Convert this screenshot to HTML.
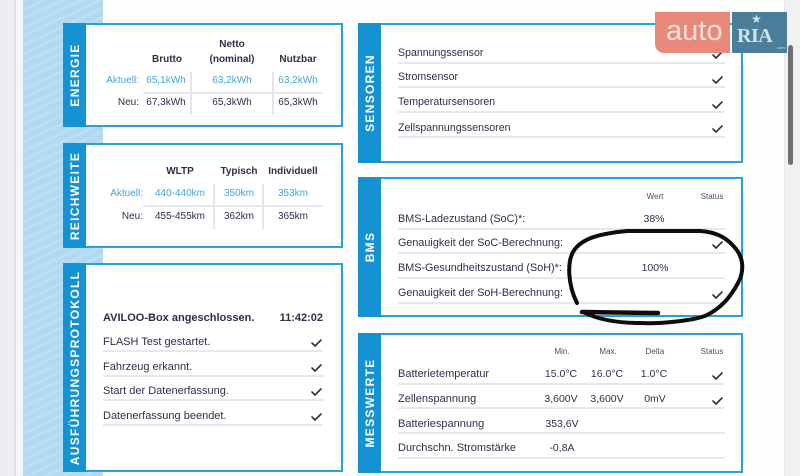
<!DOCTYPE html>
<html><head><meta charset="utf-8"><style>
*{margin:0;padding:0}
body{width:800px;height:476px;overflow:hidden;background:#fdfdfe;font-family:"Liberation Sans",Arial,sans-serif;color:#2c2f4a}
#p{position:relative;width:800px;height:476px;overflow:hidden}
.a{position:absolute;white-space:nowrap;line-height:12px;font-size:11px}
.c{text-align:center;width:120px}
.r{text-align:right;width:100px}
.b{font-weight:bold}
.lb{color:#46a4d7}
.h{font-size:8px;color:#4a4e66}
.card{position:absolute;box-sizing:border-box;border:2px solid #2a9fdc;background:#fff}
.bar{position:absolute;left:-2px;top:-2px;bottom:-2px;width:23px;background:#1592d2}
.bar span{position:absolute;left:50%;top:50%;transform:translate(-50%,-50%) rotate(-90deg);color:#fff;font-weight:bold;font-size:12px;letter-spacing:1.3px;white-space:nowrap;line-height:12px}
.hl{position:absolute;height:2px;background:#e6e8ec}
.vl{position:absolute;width:2px;background:#e3e5ea}
.ck{position:absolute;width:10px;height:8px}
</style></head><body><div id="p">
<!-- left strips -->
<div style="position:absolute;left:0;top:0;width:14px;height:476px;background:#ecedf2"></div>
<div style="position:absolute;left:14px;top:0;width:2px;height:476px;background:#dfe0e6"></div>
<div style="position:absolute;left:16px;top:0;width:7px;height:476px;background:#f4f5f8"></div>
<div style="position:absolute;left:23px;top:0;width:80px;height:476px;background:#b1d9f1;background-image:repeating-linear-gradient(155deg,rgba(255,255,255,0.18) 0 2px,rgba(255,255,255,0) 2px 8px)"></div>
<!-- right scrollbar -->
<div style="position:absolute;left:784px;top:0;width:1px;height:476px;background:#e4e4ea"></div>
<div style="position:absolute;left:785px;top:0;width:15px;height:476px;background:#f1f1f4"></div>
<div style="position:absolute;left:788px;top:45px;width:5px;height:120px;border-radius:3px;background:#707072"></div>

<!-- cards -->
<div class="card" style="left:63px;top:23px;width:280px;height:104px"><div class="bar"><span>ENERGIE</span></div></div>
<div class="card" style="left:63px;top:143px;width:280px;height:105px"><div class="bar"><span>REICHWEITE</span></div></div>
<div class="card" style="left:63px;top:263px;width:280px;height:209px"><div class="bar"><span>AUSFÜHRUNGSPROTOKOLL</span></div></div>
<div class="card" style="left:358px;top:23px;width:385px;height:140px"><div class="bar"><span>SENSOREN</span></div></div>
<div class="card" style="left:358px;top:177px;width:385px;height:140px"><div class="bar"><span>BMS</span></div></div>
<div class="card" style="left:358px;top:333px;width:385px;height:140px"><div class="bar"><span>MESSWERTE</span></div></div>

<!-- ENERGIE -->
<div class="a c b" style="left:172px;top:39px;font-size:10px">Netto</div>
<div class="a c b" style="left:172px;top:54px;font-size:10px">(nominal)</div>
<div class="a c b" style="left:107px;top:54px;font-size:10px">Brutto</div>
<div class="a c b" style="left:238px;top:54px;font-size:10px">Nutzbar</div>
<div class="vl" style="left:190px;top:72px;height:43px"></div>
<div class="vl" style="left:272px;top:72px;height:43px"></div>
<div class="hl" style="left:143px;top:92px;width:180px"></div>
<div class="a r lb" style="left:39px;top:75px;font-size:10px">Aktuell:</div>
<div class="a c lb" style="left:106px;top:75px;font-size:10px">65,1kWh</div>
<div class="a c lb" style="left:172px;top:75px;font-size:10px">63,2kWh</div>
<div class="a c lb" style="left:238px;top:75px;font-size:10px">63,2kWh</div>
<div class="a r" style="left:39px;top:97px;font-size:10px">Neu:</div>
<div class="a c" style="left:106px;top:97px;font-size:10px">67,3kWh</div>
<div class="a c" style="left:172px;top:97px;font-size:10px">65,3kWh</div>
<div class="a c" style="left:238px;top:97px;font-size:10px">65,3kWh</div>

<!-- REICHWEITE -->
<div class="a c b" style="left:120px;top:166px;font-size:10px">WLTP</div>
<div class="a c b" style="left:179px;top:166px;font-size:10px">Typisch</div>
<div class="a c b" style="left:233px;top:166px;font-size:10px">Individuell</div>
<div class="vl" style="left:213px;top:184px;height:45px"></div>
<div class="vl" style="left:262px;top:184px;height:45px"></div>
<div class="hl" style="left:143px;top:205px;width:180px"></div>
<div class="a r lb" style="left:43px;top:188px;font-size:10px">Aktuell:</div>
<div class="a c lb" style="left:120px;top:188px;font-size:10px">440-440km</div>
<div class="a c lb" style="left:179px;top:188px;font-size:10px">350km</div>
<div class="a c lb" style="left:233px;top:188px;font-size:10px">353km</div>
<div class="a r" style="left:43px;top:211px;font-size:10px">Neu:</div>
<div class="a c" style="left:120px;top:211px;font-size:10px">455-455km</div>
<div class="a c" style="left:179px;top:211px;font-size:10px">362km</div>
<div class="a c" style="left:233px;top:211px;font-size:10px">365km</div>

<!-- AUSFÜHRUNGSPROTOKOLL -->
<div class="a b" style="left:103px;top:312px;font-size:11px">AVILOO-Box angeschlossen.</div>
<div class="a r b" style="left:223px;top:312px;font-size:11px">11:42:02</div>
<div class="a" style="left:103px;top:336px">FLASH Test gestartet.</div>
<div class="a" style="left:103px;top:361px">Fahrzeug erkannt.</div>
<div class="a" style="left:103px;top:385px">Start der Datenerfassung.</div>
<div class="a" style="left:103px;top:410px">Datenerfassung beendet.</div>
<div class="hl" style="left:103px;top:350px;width:220px"></div>
<div class="hl" style="left:103px;top:375px;width:220px"></div>
<div class="hl" style="left:103px;top:399px;width:220px"></div>
<div class="hl" style="left:103px;top:424px;width:220px"></div>

<!-- SENSOREN -->
<div class="a" style="left:398px;top:47px;font-size:10.6px">Spannungssensor</div>
<div class="a" style="left:398px;top:71px;font-size:10.6px">Stromsensor</div>
<div class="a" style="left:398px;top:96px;font-size:10.6px">Temperatursensoren</div>
<div class="a" style="left:398px;top:122px;font-size:10.6px">Zellspannungssensoren</div>
<div class="hl" style="left:398px;top:62px;width:327px"></div>
<div class="hl" style="left:398px;top:86px;width:327px"></div>
<div class="hl" style="left:398px;top:111px;width:327px"></div>
<div class="hl" style="left:398px;top:136px;width:327px"></div>

<!-- BMS -->
<div class="a c h" style="left:595px;top:191px">Wert</div>
<div class="a c h" style="left:652px;top:191px">Status</div>
<div class="a" style="left:398px;top:213px;font-size:10.8px">BMS-Ladezustand (SoC)*:</div>
<div class="a c" style="left:594px;top:213px;font-size:10.5px">38%</div>
<div class="a" style="left:398px;top:237px;font-size:10.8px">Genauigkeit der SoC-Berechnung:</div>
<div class="a" style="left:398px;top:262px;font-size:10.8px">BMS-Gesundheitszustand (SoH)*:</div>
<div class="a c" style="left:595px;top:262px;font-size:10.5px">100%</div>
<div class="a" style="left:398px;top:287px;font-size:10.8px">Genauigkeit der SoH-Berechnung:</div>
<div class="hl" style="left:398px;top:228px;width:327px"></div>
<div class="hl" style="left:398px;top:252px;width:327px"></div>
<div class="hl" style="left:398px;top:277px;width:327px"></div>
<div class="hl" style="left:398px;top:302px;width:327px"></div>

<!-- MESSWERTE -->
<div class="a c h" style="left:502px;top:346px">Min.</div>
<div class="a c h" style="left:548px;top:346px">Max.</div>
<div class="a c h" style="left:595px;top:346px">Delta</div>
<div class="a c h" style="left:652px;top:346px">Status</div>
<div class="a" style="left:398px;top:368px">Batterietemperatur</div>
<div class="a c" style="left:501px;top:368px;font-size:10.5px">15.0°C</div>
<div class="a c" style="left:547px;top:368px;font-size:10.5px">16.0°C</div>
<div class="a c" style="left:594px;top:368px;font-size:10.5px">1.0°C</div>
<div class="a" style="left:398px;top:393px">Zellenspannung</div>
<div class="a c" style="left:501px;top:393px;font-size:10.5px">3,600V</div>
<div class="a c" style="left:547px;top:393px;font-size:10.5px">3,600V</div>
<div class="a c" style="left:595px;top:393px;font-size:10.5px">0mV</div>
<div class="a" style="left:398px;top:418px">Batteriespannung</div>
<div class="a c" style="left:502px;top:418px;font-size:10.5px">353,6V</div>
<div class="a" style="left:398px;top:442px">Durchschn. Stromstärke</div>
<div class="a c" style="left:502px;top:442px;font-size:10.5px">-0,8A</div>
<div class="hl" style="left:398px;top:383px;width:327px"></div>
<div class="hl" style="left:398px;top:407px;width:327px"></div>
<div class="hl" style="left:398px;top:432px;width:327px"></div>
<div class="hl" style="left:398px;top:457px;width:327px"></div>

<!-- check marks + drawing -->
<svg style="position:absolute;left:0;top:0" width="800" height="476" viewBox="0 0 800 476">
<g fill="none" stroke="#2c2f4a" stroke-width="1.6" stroke-linecap="round" stroke-linejoin="round">
<path d="M312,343 l3,3 l6,-6"/>
<path d="M312,368 l3,3 l6,-6"/>
<path d="M312,392 l3,3 l6,-6"/>
<path d="M312,417 l3,3 l6,-6"/>
<path d="M713,55 l3,3 l6,-6"/>
<path d="M713,80 l3,3 l6,-6"/>
<path d="M713,105 l3,3 l6,-6"/>
<path d="M713,129 l3,3 l6,-6"/>
<path d="M713,245 l3,3 l6,-6"/>
<path d="M713,295 l3,3 l6,-6"/>
<path d="M713,376 l3,3 l6,-6"/>
<path d="M713,401 l3,3 l6,-6"/>
</g>
<g fill="none" stroke="#0d0d0d" stroke-width="4" stroke-linecap="round" stroke-linejoin="round">
<path d="M577,303 C568,285 567,263 573,252 C580,240 595,234 627,231 L700,231 C718,232 728,239 736,249 C744,259 744,272 738,283 C731,296 722,308 705,316 C690,321 660,324 640,323 C620,323 600,320 585,313"/>
<path d="M582,312 L658,313" stroke-width="4.5"/>
</g>
</svg>

<!-- watermark -->
<div style="position:absolute;left:655px;top:12px;width:75px;height:41px;background:#e9897c;border-radius:0 0 0 9px"></div>
<div class="a" style="left:666px;top:14px;font-size:29px;line-height:34px;color:#fbe0da">auto</div>
<div style="position:absolute;left:732px;top:12px;width:55px;height:41px;background:#4b7e9a"></div>
<div class="a" style="left:737px;top:26px;font-family:'Liberation Serif',serif;font-weight:bold;font-size:20px;line-height:20px;color:#cfe1ea;letter-spacing:-0.5px">RIA</div>
<div class="a" style="left:751px;top:13px;font-size:12px;line-height:12px;color:#cfe1ea">★</div>
<div class="a" style="left:776px;top:45px;font-size:4px;line-height:5px;color:#cfe1ea">.com</div>
</div></body></html>
